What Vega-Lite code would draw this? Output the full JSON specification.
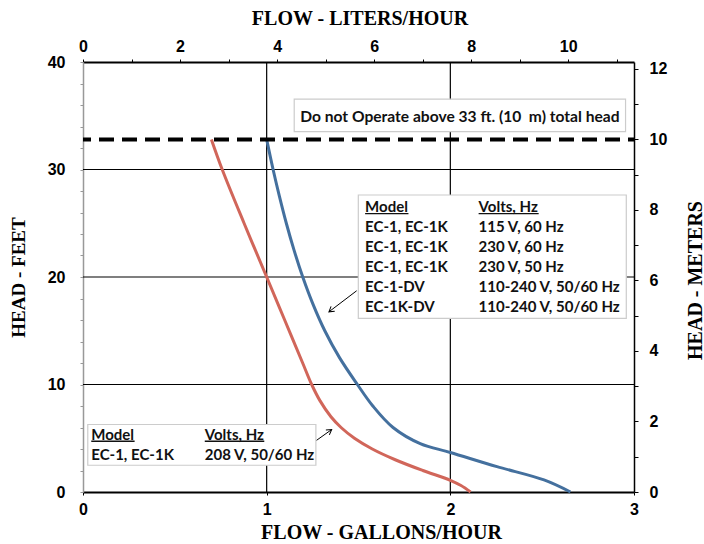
{
  "$schema": "https://vega.github.io/schema/vega-lite/v6.json",
  "width": 551,
  "height": 430,
  "autosize": {"type": "none"},
  "padding": {"left": 83, "top": 62, "right": 70, "bottom": 52},
  "background": "white",
  "config": {
    "view": {"stroke": null},
    "axis": {
      "labelFont": "Liberation Sans",
      "labelFontWeight": "bold",
      "labelFontSize": 16,
      "labelColor": "black",
      "titleFont": "Liberation Serif",
      "titleFontWeight": "bold",
      "titleFontSize": 20,
      "titleColor": "black",
      "labelFlush": false,
      "labelOverlap": false,
      "grid": false
    }
  },
  "datasets": {
    "curves": [
      {"model": "208V", "x": 0.699, "y": 32.8},
      {"model": "208V", "x": 0.758, "y": 30},
      {"model": "208V", "x": 0.877, "y": 25},
      {"model": "208V", "x": 1.0, "y": 20},
      {"model": "208V", "x": 1.098, "y": 16},
      {"model": "208V", "x": 1.196, "y": 12},
      {"model": "208V", "x": 1.245, "y": 10},
      {"model": "208V", "x": 1.29, "y": 8.5},
      {"model": "208V", "x": 1.35, "y": 7},
      {"model": "208V", "x": 1.405, "y": 6},
      {"model": "208V", "x": 1.478, "y": 5},
      {"model": "208V", "x": 1.575, "y": 4},
      {"model": "208V", "x": 1.7, "y": 3},
      {"model": "208V", "x": 1.85, "y": 2},
      {"model": "208V", "x": 2.0, "y": 1.09},
      {"model": "208V", "x": 2.058, "y": 0.6},
      {"model": "208V", "x": 2.11, "y": 0},
      {"model": "115V", "x": 1.0, "y": 32.8},
      {"model": "115V", "x": 1.035, "y": 30},
      {"model": "115V", "x": 1.0695, "y": 27.5},
      {"model": "115V", "x": 1.107, "y": 25},
      {"model": "115V", "x": 1.149, "y": 22.5},
      {"model": "115V", "x": 1.1965, "y": 20},
      {"model": "115V", "x": 1.2515, "y": 17.5},
      {"model": "115V", "x": 1.3165, "y": 15},
      {"model": "115V", "x": 1.3965, "y": 12.5},
      {"model": "115V", "x": 1.494, "y": 10},
      {"model": "115V", "x": 1.578, "y": 8},
      {"model": "115V", "x": 1.688, "y": 6},
      {"model": "115V", "x": 1.836, "y": 4.5},
      {"model": "115V", "x": 2.0, "y": 3.68},
      {"model": "115V", "x": 2.254, "y": 2.36},
      {"model": "115V", "x": 2.51, "y": 1.12},
      {"model": "115V", "x": 2.654, "y": 0}
    ],
    "vgrid": [{"x": 1}, {"x": 2}],
    "hgrid": [{"y": 10}, {"y": 20}, {"y": 30}],
    "limit": [{"y": 32.8}],
    "boxes": [
      {"x": 1.15, "x2": 2.954, "y": 36.54, "y2": 33.52},
      {"x": 1.499, "x2": 2.958, "y": 27.63, "y2": 16.15},
      {"x": 0.026, "x2": 1.268, "y": 6.28, "y2": 2.49}
    ],
    "warning": [{"x": 2.052, "y": 34.92, "text": "Do not Operate above 33 ft. (10 \u00a0m) total head"}],
    "legend": [
      {"x": 1.536, "y": 26.54, "text": "Model"},
      {"x": 2.154, "y": 26.54, "text": "Volts, Hz"},
      {"x": 1.536, "y": 24.67, "text": "EC-1, EC-1K"},
      {"x": 2.154, "y": 24.67, "text": "115 V, 60 Hz"},
      {"x": 1.536, "y": 22.81, "text": "EC-1, EC-1K"},
      {"x": 2.154, "y": 22.81, "text": "230 V, 60 Hz"},
      {"x": 1.536, "y": 20.95, "text": "EC-1, EC-1K"},
      {"x": 2.154, "y": 20.95, "text": "230 V, 50 Hz"},
      {"x": 1.536, "y": 19.09, "text": "EC-1-DV"},
      {"x": 2.154, "y": 19.09, "text": "110-240 V, 50/60 Hz"},
      {"x": 1.536, "y": 17.23, "text": "EC-1K-DV"},
      {"x": 2.154, "y": 17.23, "text": "110-240 V, 50/60 Hz"},
      {"x": 0.045, "y": 5.28, "text": "Model"},
      {"x": 0.663, "y": 5.28, "text": "Volts, Hz"},
      {"x": 0.045, "y": 3.42, "text": "EC-1, EC-1K"},
      {"x": 0.663, "y": 3.42, "text": "208 V, 50/60 Hz"}
    ],
    "underlines": [
      {"x": 1.536, "x2": 1.772, "y": 25.9},
      {"x": 2.154, "x2": 2.481, "y": 25.9},
      {"x": 0.045, "x2": 0.281, "y": 4.72},
      {"x": 0.663, "x2": 0.987, "y": 4.72}
    ],
    "arrows": [
      {"id": "a1", "x": 1.49, "y": 18.72},
      {"id": "a1", "x": 1.339, "y": 16.76},
      {"id": "a2", "x": 1.272, "y": 4.81},
      {"id": "a2", "x": 1.354, "y": 5.81}
    ],
    "heads": [
      {"id": "a1", "x": 1.339, "y": 16.76},
      {"id": "a2", "x": 1.354, "y": 5.81}
    ],
    "secondary": [{"L": 0, "m": 0}, {"L": 11.356, "m": 12.192}]
  },
  "layer": [
    {
      "data": {"name": "vgrid"},
      "mark": {"type": "rule", "color": "black", "strokeWidth": 1.2},
      "encoding": {
        "x": {
          "field": "x", "type": "quantitative",
          "scale": {"domain": [0, 3], "nice": false, "zero": false},
          "axis": {
            "orient": "bottom",
            "values": [0, 0.5, 1, 1.5, 2, 2.5, 3],
            "format": "d",
            "labelExpr": "datum.value % 1 == 0 ? datum.label : ''",
            "domainColor": "black", "domainWidth": 2,
            "tickColor": "black", "tickWidth": 1, "tickSize": 3,
            "labelPadding": 6,
            "title": "FLOW - GALLONS/HOUR",
            "titleX": 298, "titleY": 40,
            "titleBaseline": "middle", "titleAlign": "center"
          }
        }
      }
    },
    {
      "data": {"name": "hgrid"},
      "mark": {"type": "rule", "color": "black", "strokeWidth": 1.2},
      "encoding": {
        "y": {
          "field": "y", "type": "quantitative",
          "scale": {"domain": [0, 40], "nice": false, "zero": false},
          "axis": {
            "orient": "left",
            "values": [0, 2, 4, 6, 8, 10, 12, 14, 16, 18, 20, 22, 24, 26, 28, 30, 32, 34, 36, 38, 40],
            "labelExpr": "datum.value % 10 == 0 ? datum.label : ''",
            "domainColor": "#999999", "domainWidth": 1.5,
            "tickColor": "#999999", "tickWidth": 1, "tickSize": 3,
            "labelPadding": 15,
            "title": "HEAD - FEET",
            "titleFontSize": 19,
            "titleAngle": 270,
            "titleX": -65, "titleY": 215,
            "titleBaseline": "middle", "titleAlign": "center"
          }
        }
      }
    },
    {
      "data": {"name": "curves"},
      "mark": {"type": "line", "interpolate": "catmull-rom", "strokeWidth": 3},
      "encoding": {
        "x": {"field": "x", "type": "quantitative", "axis": null, "scale": {"domain": [0, 3], "nice": false, "zero": false}},
        "y": {"field": "y", "type": "quantitative", "axis": null, "scale": {"domain": [0, 40], "nice": false, "zero": false}},
        "color": {
          "field": "model", "type": "nominal",
          "scale": {"domain": ["208V", "115V"], "range": ["#d1665a", "#44709e"]},
          "legend": null
        }
      }
    },
    {
      "data": {"name": "limit"},
      "mark": {"type": "rule", "color": "black", "strokeWidth": 4, "strokeDash": [15, 8], "strokeDashOffset": 9},
      "encoding": {
        "y": {"field": "y", "type": "quantitative", "axis": null, "scale": {"domain": [0, 40], "nice": false, "zero": false}}
      }
    },
    {
      "data": {"name": "boxes"},
      "mark": {"type": "rect", "fill": "white", "stroke": "#cccccc", "strokeWidth": 1.2},
      "encoding": {
        "x": {"field": "x", "type": "quantitative", "axis": null, "scale": {"domain": [0, 3], "nice": false, "zero": false}},
        "x2": {"field": "x2"},
        "y": {"field": "y", "type": "quantitative", "axis": null, "scale": {"domain": [0, 40], "nice": false, "zero": false}},
        "y2": {"field": "y2"}
      }
    },
    {
      "data": {"name": "warning"},
      "mark": {"type": "text", "align": "center", "baseline": "middle", "font": "Lato", "fontWeight": "bold", "fontSize": 15.6, "color": "#111111"},
      "encoding": {
        "x": {"field": "x", "type": "quantitative", "axis": null, "scale": {"domain": [0, 3], "nice": false, "zero": false}},
        "y": {"field": "y", "type": "quantitative", "axis": null, "scale": {"domain": [0, 40], "nice": false, "zero": false}},
        "text": {"field": "text"}
      }
    },
    {
      "data": {"name": "legend"},
      "mark": {"type": "text", "align": "left", "baseline": "middle", "font": "Lato", "fontWeight": "bold", "fontSize": 15, "color": "#111111"},
      "encoding": {
        "x": {"field": "x", "type": "quantitative", "axis": null, "scale": {"domain": [0, 3], "nice": false, "zero": false}},
        "y": {"field": "y", "type": "quantitative", "axis": null, "scale": {"domain": [0, 40], "nice": false, "zero": false}},
        "text": {"field": "text"}
      }
    },
    {
      "data": {"name": "underlines"},
      "mark": {"type": "rule", "color": "#111111", "strokeWidth": 1.3},
      "encoding": {
        "x": {"field": "x", "type": "quantitative", "axis": null, "scale": {"domain": [0, 3], "nice": false, "zero": false}},
        "x2": {"field": "x2"},
        "y": {"field": "y", "type": "quantitative", "axis": null, "scale": {"domain": [0, 40], "nice": false, "zero": false}}
      }
    },
    {
      "data": {"name": "arrows"},
      "mark": {"type": "line", "color": "black", "strokeWidth": 1},
      "encoding": {
        "x": {"field": "x", "type": "quantitative", "axis": null, "scale": {"domain": [0, 3], "nice": false, "zero": false}},
        "y": {"field": "y", "type": "quantitative", "axis": null, "scale": {"domain": [0, 40], "nice": false, "zero": false}},
        "detail": {"field": "id"}
      }
    },
    {
      "data": {"name": "heads"},
      "transform": [{"filter": "datum.id == 'a1'"}],
      "mark": {"type": "point", "shape": "M -1 -0.6 L 0 0 L -1 0.6", "filled": false, "stroke": "black", "strokeWidth": 1, "size": 100, "opacity": 1, "angle": 142.8},
      "encoding": {
        "x": {"field": "x", "type": "quantitative", "axis": null, "scale": {"domain": [0, 3], "nice": false, "zero": false}},
        "y": {"field": "y", "type": "quantitative", "axis": null, "scale": {"domain": [0, 40], "nice": false, "zero": false}}
      }
    },
    {
      "data": {"name": "heads"},
      "transform": [{"filter": "datum.id == 'a2'"}],
      "mark": {"type": "point", "shape": "M -1 -0.6 L 0 0 L -1 0.6", "filled": false, "stroke": "black", "strokeWidth": 1, "size": 100, "opacity": 1, "angle": 324.5},
      "encoding": {
        "x": {"field": "x", "type": "quantitative", "axis": null, "scale": {"domain": [0, 3], "nice": false, "zero": false}},
        "y": {"field": "y", "type": "quantitative", "axis": null, "scale": {"domain": [0, 40], "nice": false, "zero": false}}
      }
    },
    {
      "data": {"name": "secondary"},
      "mark": {"type": "point", "opacity": 0},
      "encoding": {
        "x": {
          "field": "L", "type": "quantitative",
          "scale": {"domain": [0, 11.356], "nice": false, "zero": false},
          "axis": {
            "orient": "top",
            "values": [0, 1, 2, 3, 4, 5, 6, 7, 8, 9, 10, 11],
            "labelExpr": "datum.value % 2 == 0 ? datum.label : ''",
            "domainColor": "black", "domainWidth": 2,
            "tickColor": "black", "tickWidth": 1, "tickSize": 3,
            "labelPadding": 5,
            "title": "FLOW - LITERS/HOUR",
            "titleX": 276.5, "titleY": -44,
            "titleBaseline": "middle", "titleAlign": "center"
          }
        },
        "y": {
          "field": "m", "type": "quantitative",
          "scale": {"domain": [0, 12.192], "nice": false, "zero": false},
          "axis": {
            "orient": "right",
            "values": [0, 1, 2, 3, 4, 5, 6, 7, 8, 9, 10, 11, 12],
            "labelExpr": "datum.value % 2 == 0 ? datum.label : ''",
            "domainColor": "black", "domainWidth": 1.5,
            "tickColor": "black", "tickWidth": 1, "tickSize": 4,
            "labelPadding": 11,
            "title": "HEAD - METERS",
            "titleFontSize": 20,
            "titleAngle": 270,
            "titleX": 61, "titleY": 218,
            "titleBaseline": "middle", "titleAlign": "center"
          }
        }
      }
    }
  ],
  "resolve": {"scale": {"x": "independent", "y": "independent"}}
}
